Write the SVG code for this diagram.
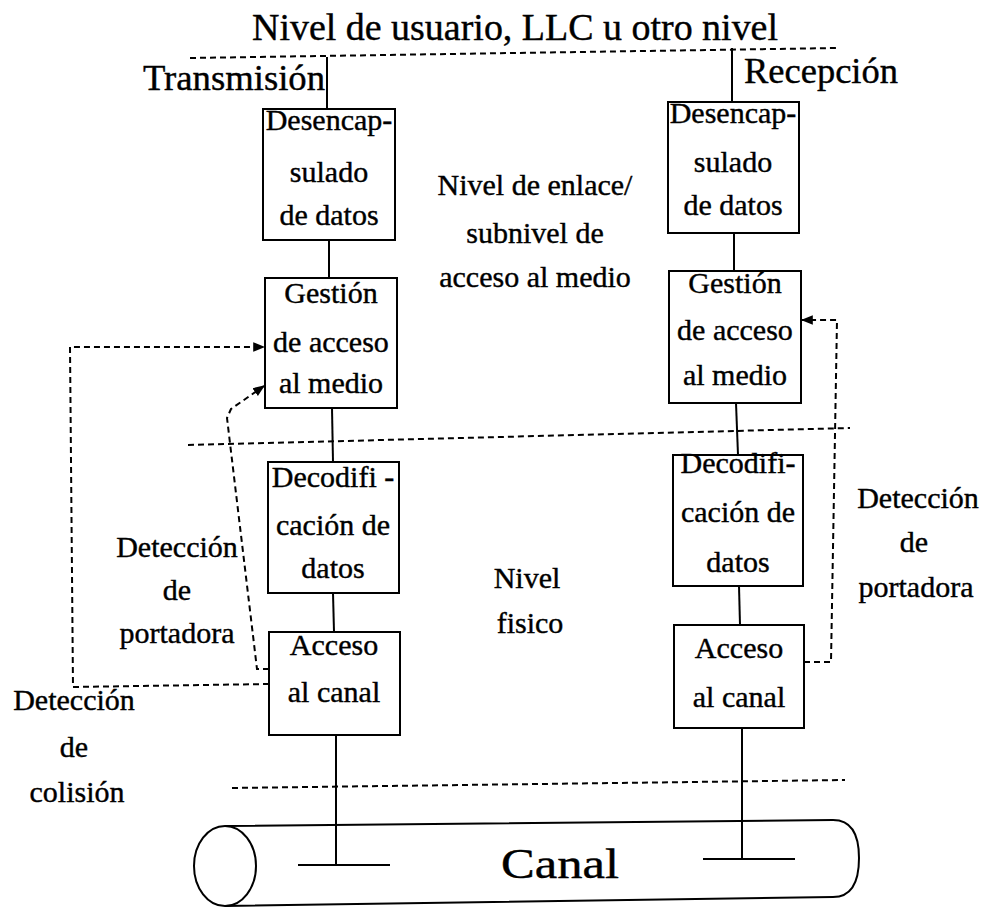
<svg xmlns="http://www.w3.org/2000/svg" width="990" height="907" viewBox="0 0 990 907">
<style>
text{fill:#000;stroke:#000;stroke-width:0.4;text-anchor:middle}
.box{fill:#fff;stroke:#000;stroke-width:2}
.ln{stroke:#000;stroke-width:2;fill:none}
.dash{stroke:#000;stroke-width:2;fill:none;stroke-dasharray:6 4}
.t30{font-size:30px}
</style>
<defs>
<marker id="ah" viewBox="0 0 10 10" refX="9" refY="5" markerWidth="12" markerHeight="12" markerUnits="userSpaceOnUse" orient="auto">
<path d="M0,1 L10,5 L0,9 z" fill="#000"/>
</marker>
</defs>
<rect width="990" height="907" fill="#fff"/>
<g font-family="'Liberation Serif', 'Times New Roman', 'DejaVu Serif', serif">

<text x="515" y="40" font-size="38" textLength="526" lengthAdjust="spacingAndGlyphs">Nivel de usuario, LLC u otro nivel</text>
<text x="234" y="90" font-size="36" textLength="182" lengthAdjust="spacingAndGlyphs">Transmisión</text>
<text x="821" y="83" font-size="36" textLength="154" lengthAdjust="spacingAndGlyphs">Recepción</text>

<g id="levels">
<line class="dash" x1="190" y1="58" x2="838" y2="48"/>
<line class="dash" x1="188" y1="445" x2="850" y2="428"/>
<line class="dash" x1="232" y1="788" x2="845" y2="780"/>
</g>

<g id="connectors">
<line class="ln" x1="327" y1="57" x2="327" y2="109"/>
<line class="ln" x1="329" y1="240" x2="329" y2="278"/>
<line class="ln" x1="332" y1="408" x2="333" y2="462"/>
<line class="ln" x1="333" y1="593" x2="334" y2="632"/>
<line class="ln" x1="336" y1="735" x2="336" y2="865"/>
<line class="ln" x1="298" y1="865" x2="390" y2="865"/>
<line class="ln" x1="732" y1="48" x2="732" y2="102"/>
<line class="ln" x1="734" y1="233" x2="734" y2="271"/>
<line class="ln" x1="736" y1="403" x2="738" y2="455"/>
<line class="ln" x1="739" y1="586" x2="740" y2="625"/>
<line class="ln" x1="742" y1="728" x2="742" y2="859"/>
<line class="ln" x1="703" y1="859" x2="795" y2="859"/>
<path class="dash" d="M269,684 L73,687 L70,347 L264,347" marker-end="url(#ah)"/>
<path class="dash" d="M269,669 L257,669 L227,418 L231,409 L264,386" marker-end="url(#ah)"/>
<path class="dash" d="M804,662 L831,662 L837,320 L802,320" marker-end="url(#ah)"/>
</g>

<g id="canal">
<path class="ln" d="M225,826 L833,820 Q859,820 859,858 Q859,897 833,897 L225,906"/>
<ellipse class="ln" cx="225" cy="866" rx="31" ry="40"/>
<text x="560" y="878" font-size="42" textLength="118" lengthAdjust="spacingAndGlyphs">Canal</text>
</g>

<g id="tx-desencap">
<rect class="box" x="263" y="109" width="132" height="131"/>
<text class="t30" x="329" y="130">Desencap-</text>
<text class="t30" x="329" y="182">sulado</text>
<text class="t30" x="329" y="225">de datos</text>
</g>
<g id="tx-gestion">
<rect class="box" x="265" y="278" width="132" height="130"/>
<text class="t30" x="331" y="303">Gestión</text>
<text class="t30" x="331" y="352">de acceso</text>
<text class="t30" x="331" y="393">al medio</text>
</g>
<g id="tx-decod">
<rect class="box" x="268" y="462" width="131" height="131"/>
<text class="t30" x="333" y="487">Decodifi -</text>
<text class="t30" x="333" y="535">cación de</text>
<text class="t30" x="333" y="578">datos</text>
</g>
<g id="tx-acceso">
<rect class="box" x="269" y="632" width="131" height="103"/>
<text class="t30" x="334" y="655">Acceso</text>
<text class="t30" x="334" y="702">al canal</text>
</g>

<g id="rx-desencap">
<rect class="box" x="668" y="102" width="131" height="131"/>
<text class="t30" x="733" y="123">Desencap-</text>
<text class="t30" x="733" y="172">sulado</text>
<text class="t30" x="733" y="215">de datos</text>
</g>
<g id="rx-gestion">
<rect class="box" x="669" y="271" width="132" height="132"/>
<text class="t30" x="735" y="293">Gestión</text>
<text class="t30" x="735" y="340">de acceso</text>
<text class="t30" x="735" y="385">al medio</text>
</g>
<g id="rx-decod">
<rect class="box" x="673" y="455" width="130" height="131"/>
<text class="t30" x="738" y="473">Decodifi-</text>
<text class="t30" x="738" y="522">cación de</text>
<text class="t30" x="738" y="572">datos</text>
</g>
<g id="rx-acceso">
<rect class="box" x="674" y="625" width="130" height="103"/>
<text class="t30" x="739" y="658">Acceso</text>
<text class="t30" x="739" y="707">al canal</text>
</g>

<g id="lbl-enlace">
<text class="t30" x="535" y="195">Nivel de enlace/</text>
<text class="t30" x="535" y="243">subnivel de</text>
<text class="t30" x="535" y="287">acceso al medio</text>
</g>
<g id="lbl-fisico">
<text class="t30" x="527" y="588">Nivel</text>
<text class="t30" x="530" y="633">fisico</text>
</g>
<g id="lbl-portadora-tx">
<text class="t30" x="177" y="557">Detección</text>
<text class="t30" x="177" y="600">de</text>
<text class="t30" x="177" y="643">portadora</text>
</g>
<g id="lbl-colision">
<text class="t30" x="74" y="710">Detección</text>
<text class="t30" x="74" y="757">de</text>
<text class="t30" x="77" y="802">colisión</text>
</g>
<g id="lbl-portadora-rx">
<text class="t30" x="918" y="508">Detección</text>
<text class="t30" x="914" y="552">de</text>
<text class="t30" x="916" y="597">portadora</text>
</g>
</g>
</svg>
